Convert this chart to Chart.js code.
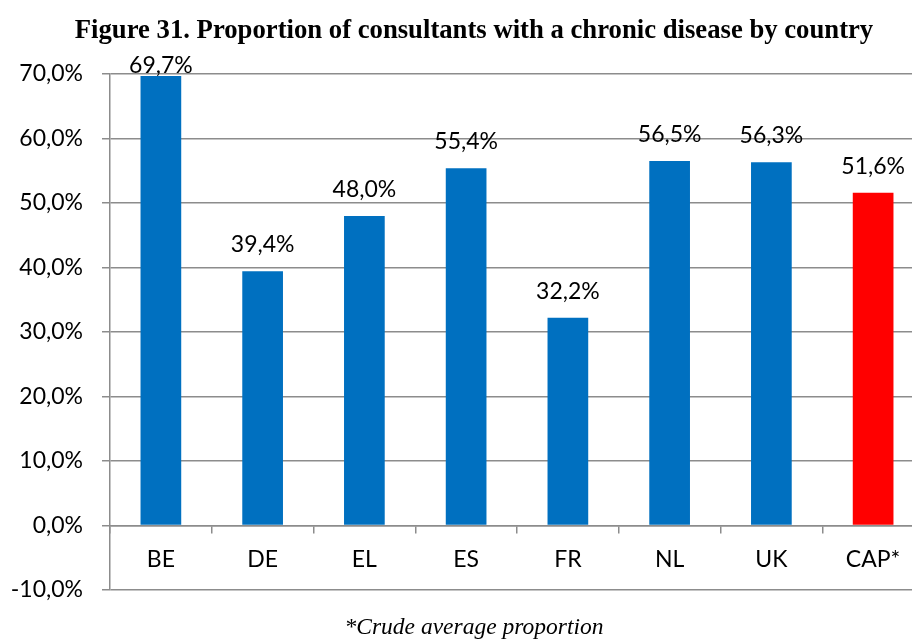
<!DOCTYPE html>
<html>
<head>
<meta charset="utf-8">
<script src="https://cdn.jsdelivr.net/npm/chart.js@4.4.1/dist/chart.umd.min.js"></script>
<style>
    html, body { margin: 0; padding: 0; overflow: hidden; background: #fff; }
    #wrap { width: 948px; height: 644px; }
</style>
</head>
<body>
<div id="wrap"><canvas id="barChart"></canvas></div>
<script>
// datos del gráfico
const paises = ['BE', 'DE', 'EL', 'ES', 'FR', 'NL', 'UK', 'CAP*'];
const proporciones = [69.7, 39.4, 48.0, 55.4, 32.2, 56.5, 56.3, 51.6];
const colores = ['#0070C0', '#0070C0', '#0070C0', '#0070C0', '#0070C0', '#0070C0', '#0070C0', '#FF0000'];
const ejeY = [-10, 0, 10, 20, 30, 40, 50, 60, 70];

const titulo = 'Figure 31. Proportion of consultants with a chronic disease by country';
const nota = '*Crude average proportion';

const fuente = 'Lato, "Open Sans", sans-serif';
const gris = '#8c8c8c';

const formato = v => v.toFixed(1).replace('.', ',') + '%';

// etiquetas encima de cada barra, título y nota al pie
const textosPlugin = {
    id: 'textos',
    afterDatasetsDraw(chart) {
        const ctx = chart.ctx;
        const area = chart.chartArea;
        const meta = chart.getDatasetMeta(0);
        ctx.save();
        ctx.font = '23px ' + fuente;
        ctx.fillStyle = '#000';
        ctx.textAlign = 'center';
        ctx.textBaseline = 'alphabetic';
        meta.data.forEach((bar, i) => {
            let y = bar.y - 19;
            if (y < area.top - 1) y = area.top - 1;
            ctx.fillText(formato(proporciones[i]), bar.x, y);
        });
        ctx.restore();
    },
    afterDraw(chart) {
        const ctx = chart.ctx;
        const cx = chart.width / 2;
        ctx.save();
        ctx.fillStyle = '#000';
        ctx.textAlign = 'center';
        ctx.textBaseline = 'alphabetic';
        ctx.font = 'bold 26.7px "Liberation Serif", "Times New Roman", serif';
        ctx.fillText(titulo, cx, 38);
        ctx.font = 'italic 23.5px "Liberation Serif", "Times New Roman", serif';
        ctx.fillText(nota, cx, 634);
        ctx.restore();
    }
};

const ctx = document.getElementById('barChart').getContext('2d');
new Chart(ctx, {
    type: 'bar',
    data: {
        labels: paises,
        datasets: [{
            data: proporciones,
            backgroundColor: colores,
            borderWidth: 0,
            barPercentage: 0.4,
            categoryPercentage: 1.0
        }]
    },
    options: {
        responsive: true,
        maintainAspectRatio: false,
        animation: false,
        layout: {
            padding: { top: 74, bottom: 54, left: 0, right: 24 }
        },
        plugins: {
            legend: { display: false },
            tooltip: { enabled: false }
        },
        scales: {
            x: {
                position: { y: 0 },
                offset: true,
                grid: {
                    offset: true,
                    drawOnChartArea: false,
                    drawTicks: true,
                    tickLength: 7,
                    color: gris,
                    lineWidth: 1.5
                },
                border: { display: true, color: gris, width: 1.5 },
                ticks: {
                    color: '#000',
                    padding: 13,
                    font: { family: fuente, size: 23 }
                }
            },
            y: {
                min: ejeY[0],
                max: ejeY[ejeY.length - 1],
                afterFit(scale) { scale.width = 110; },
                afterBuildTicks(scale) { scale.ticks = ejeY.map(v => ({ value: v })); },
                grid: {
                    color: gris,
                    lineWidth: 1.5,
                    tickLength: 8
                },
                border: { display: true, color: gris, width: 1.5 },
                ticks: {
                    color: '#000',
                    padding: 19,
                    font: { family: fuente, size: 23 },
                    callback: v => formato(v)
                }
            }
        }
    },
    plugins: [textosPlugin]
});
</script>
</body>
</html>
